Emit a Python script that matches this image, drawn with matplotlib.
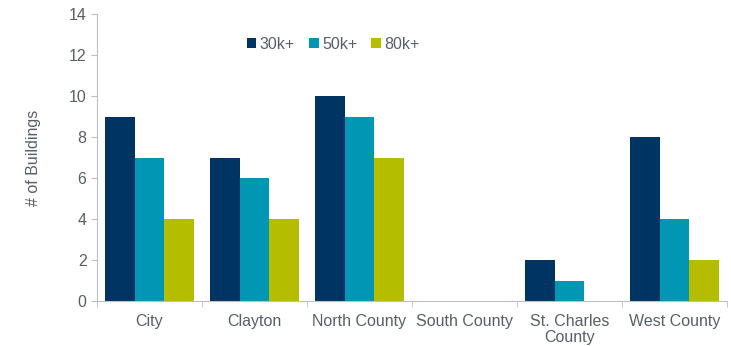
import numpy as np
import matplotlib.pyplot as plt

plt.rcParams['font.family'] = ['Liberation Sans', 'DejaVu Sans']

# Data
regions = ["City", "Clayton", "North County", "South County", "St. Charles\nCounty", "West County"]
series_names = ["30k+", "50k+", "80k+"]
vals_30k = [9, 7, 10, 0, 2, 8]
vals_50k = [7, 6, 9, 0, 1, 4]
vals_80k = [4, 4, 7, 0, 0, 2]
colors = ["#003462", "#0096B4", "#B5BD00"]

text_color = "#595F69"
axis_color = "#BFBFBF"
fs = 11.5

fig = plt.figure(figsize=(7.31, 3.46), dpi=100)
ax = fig.add_axes([0.1327, 0.130, 0.862, 0.8295])

x = np.arange(len(regions))
width = 0.283
for i, (vals, name) in enumerate(zip([vals_30k, vals_50k, vals_80k], series_names)):
    ax.bar(x + (i - 1) * width, vals, width, color=colors[i], label=name, zorder=2)

ax.set_xlim(-0.5, len(regions) - 0.5)
ax.set_ylim(0, 14)
ax.set_yticks(range(0, 15, 2))
ax.set_xticks(x)
ax.set_xticklabels(regions, color=text_color, fontsize=fs, linespacing=1.15)
ax.tick_params(axis='x', length=0, pad=9)
ax.set_xticks(np.arange(-0.5, len(regions), 1), minor=True)
ax.tick_params(axis='x', which='minor', length=4, color=axis_color, direction='out')
ax.tick_params(axis='y', length=4, color=axis_color, labelcolor=text_color, labelsize=fs)

for side in ['top', 'right']:
    ax.spines[side].set_visible(False)
for side in ['left', 'bottom']:
    ax.spines[side].set_color(axis_color)

ax.set_ylabel("# of Buildings", color=text_color, fontsize=fs, labelpad=20)

ax.legend(loc='upper left', bbox_to_anchor=(0.215, 0.97), ncol=3, frameon=False,
          handlelength=0.6, handleheight=0.6, handletextpad=0.2, columnspacing=0.9,
          labelcolor=text_color, fontsize=fs)

fig.savefig("out.png", dpi=100)
